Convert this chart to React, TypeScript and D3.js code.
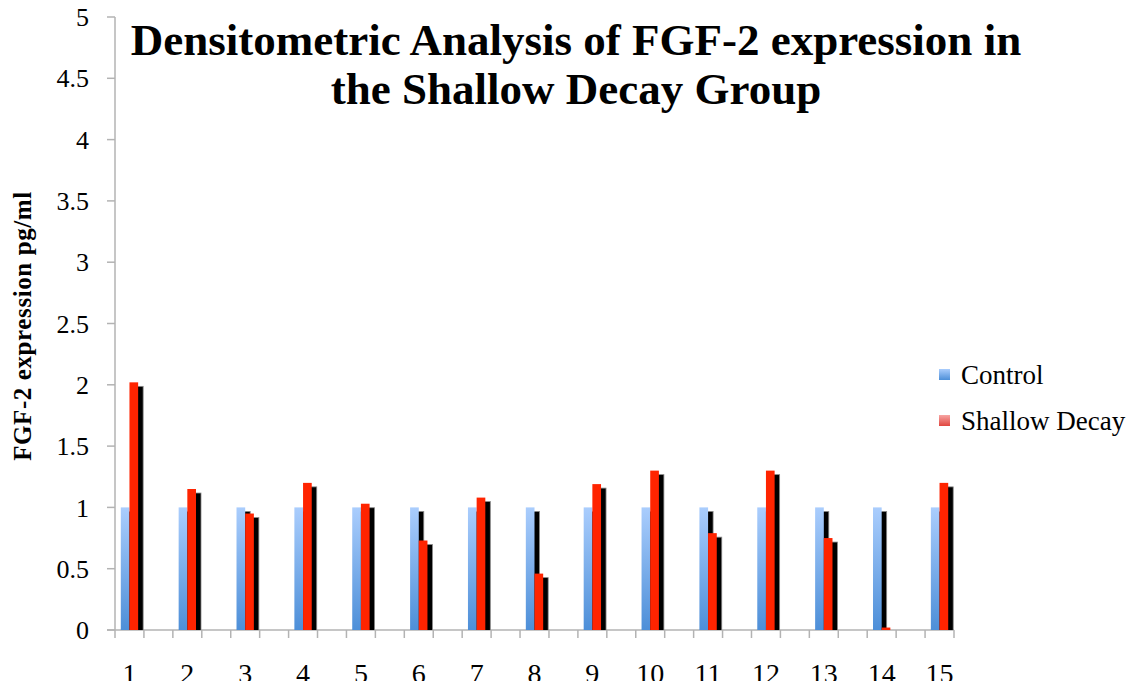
import React from "react";
import * as d3 from "d3";

// Sample numbers shown on the category axis
const categories = ["1", "2", "3", "4", "5", "6", "7", "8", "9", "10", "11", "12", "13", "14", "15"];
const seriesNames = ["Control", "Shallow Decay"];
const controlValues = [1, 1, 1, 1, 1, 1, 1, 1, 1, 1, 1, 1, 1, 1, 1];
const shallowDecayValues = [2.02, 1.15, 0.95, 1.2, 1.03, 0.73, 1.08, 0.46, 1.19, 1.3, 0.79, 1.3, 0.75, 0.02, 1.2];
const yTicks = [0, 0.5, 1, 1.5, 2, 2.5, 3, 3.5, 4, 4.5, 5];
const titleLines = ["Densitometric Analysis of FGF-2 expression in", "the Shallow Decay Group"];
const yAxisTitle = "FGF-2 expression pg/ml";

const W = 1136;
const H = 681;
const plot = { left: 115, right: 954, top: 17, bottom: 630 };
const serif = "'Liberation Serif', 'Times New Roman', serif";

export default function App() {
  // Each sample sits in its own slot with an empty slot after it
  const slots = d3.range(categories.length * 2 - 1).map(String);
  const x = d3.scaleBand<string>().domain(slots).range([plot.left, plot.right]).padding(0);
  const slotOf = (i: number) => String(i * 2);
  const inner = d3
    .scaleBand<string>()
    .domain(seriesNames)
    .range([0, x.bandwidth()])
    .paddingInner(0)
    .paddingOuter(0.667);
  const y = d3.scaleLinear().domain([0, 5]).range([plot.bottom, plot.top]);

  const bars = seriesNames.map((name, s) => {
    const vals = s === 0 ? controlValues : shallowDecayValues;
    return vals.map((v, i) => ({
      name,
      i,
      v,
      x: (x(slotOf(i)) as number) + (inner(name) as number),
      w: inner.bandwidth(),
    }));
  });

  const tickEdges = d3.range(slots.length + 1).map((k) => plot.left + k * x.step());
  const shOff = { dx: 5, dy: 4 };

  return (
    <svg width={W} height={H} style={{ position: "absolute", left: 0, top: 0, background: "#fff" }}>
      <defs>
        <linearGradient id="blueGrad" x1="0" y1="0" x2="0" y2="1">
          <stop offset="0" stopColor="#aacdfd" />
          <stop offset="1" stopColor="#4d8fd8" />
        </linearGradient>
        <linearGradient id="redLegendGrad" x1="0" y1="0" x2="0" y2="1">
          <stop offset="0" stopColor="#f7a5a3" />
          <stop offset="1" stopColor="#e0463f" />
        </linearGradient>
        <clipPath id="plotClip">
          <rect x={plot.left} y={plot.top} width={plot.right - plot.left + 20} height={plot.bottom - plot.top} />
        </clipPath>
      </defs>

      {/* Axes */}
      <line x1={plot.left} x2={plot.left} y1={plot.top} y2={plot.bottom} stroke="#b3b3b3" strokeWidth={1.5} />
      {yTicks.map((t) => (
        <g key={t}>
          <line x1={plot.left - 8} x2={plot.left} y1={y(t)} y2={y(t)} stroke="#b3b3b3" strokeWidth={1.5} />
          <text
            x={89}
            y={y(t)}
            dy="0.35em"
            textAnchor="end"
            fontFamily={serif}
            fontSize={26}
            fill="#000"
          >
            {t}
          </text>
        </g>
      ))}
      <line x1={plot.left - 8} x2={plot.right} y1={plot.bottom} y2={plot.bottom} stroke="#b3b3b3" strokeWidth={1.5} />
      {tickEdges.map((tx, k) => (
        <line key={k} x1={tx} x2={tx} y1={plot.bottom} y2={plot.bottom + 8} stroke="#b3b3b3" strokeWidth={1.5} />
      ))}
      {categories.map((c, i) => (
        <text
          key={c}
          x={(x(slotOf(i)) as number) + x.bandwidth() / 2}
          y={683}
          textAnchor="middle"
          fontFamily={serif}
          fontSize={28}
          fill="#000"
        >
          {c}
        </text>
      ))}

      {/* Bars with drop shadows, series drawn in order */}
      <g clipPath="url(#plotClip)">
        {bars.map((series, s) => (
          <g key={s}>
            {series.map((b) => (
              <rect
                key={"sh" + b.i}
                x={b.x + shOff.dx}
                y={y(b.v) + shOff.dy}
                width={b.w}
                height={Math.max(0, plot.bottom - y(b.v))}
                fill="#000"
                stroke="#8a8a8a"
                strokeWidth={0.8}
              />
            ))}
            {series.map((b) => (
              <rect
                key={"b" + b.i}
                x={b.x}
                y={y(b.v)}
                width={b.w}
                height={plot.bottom - y(b.v)}
                fill={s === 0 ? "url(#blueGrad)" : "#ff2400"}
              />
            ))}
          </g>
        ))}
      </g>

      {/* Title */}
      {titleLines.map((line, k) => (
        <text
          key={k}
          x={576}
          y={55 + k * 49}
          textAnchor="middle"
          fontFamily={serif}
          fontWeight="bold"
          fontSize={45}
          fill="#000"
        >
          {line}
        </text>
      ))}

      {/* Y axis title */}
      <text
        transform={`translate(31, 326) rotate(-90)`}
        textAnchor="middle"
        fontFamily={serif}
        fontWeight="bold"
        fontSize={25}
        letterSpacing={0.6}
        fill="#000"
      >
        {yAxisTitle}
      </text>

      {/* Legend */}
      {seriesNames.map((name, k) => (
        <g key={name} transform={`translate(939, ${369 + k * 46})`}>
          <rect width={11} height={11} fill={k === 0 ? "url(#blueGrad)" : "url(#redLegendGrad)"} />
          <text x={22} y={15} fontFamily={serif} fontSize={27} fill="#000">
            {name}
          </text>
        </g>
      ))}
    </svg>
  );
}
